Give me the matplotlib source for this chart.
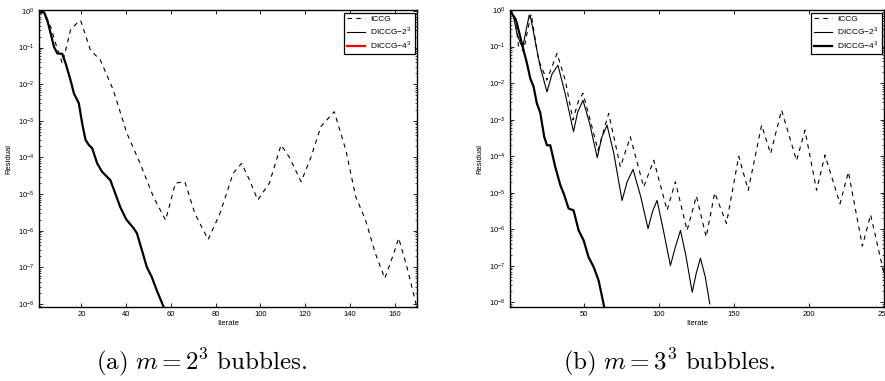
import numpy as np
import matplotlib
matplotlib.use('Agg')
import matplotlib.pyplot as plt
from matplotlib.lines import Line2D

plt.rcParams['font.family'] = ['Liberation Sans', 'DejaVu Sans']
plt.rcParams['mathtext.fontset'] = 'custom'
plt.rcParams['mathtext.rm'] = 'Liberation Sans'

# (a) m = 2^3 burbujas: iteración y log10 del residuo
it_a_iccg = [1, 3, 6.2, 9, 11.4, 13, 15.1, 17.5, 19.6, 22, 24, 28.4, 32.9, 34.2, 37, 40.3, 46.2,
             52.2, 57.6, 62, 66.2, 70.7, 76.6, 81.9, 87.8, 91.6, 95, 98.8, 104, 109.2, 112.9,
             118.2, 122.6, 127, 133, 138.2, 142.6, 147, 151.4, 155.6, 159.6, 161.8, 165.5, 170]
log_a_iccg = [0, -0.1, -0.43, -1.0, -1.43, -1.05, -0.52, -0.36, -0.26, -0.7, -1.07, -1.34, -1.97,
              -2.16, -2.7, -3.34, -4.16, -5.08, -5.71, -4.7, -4.66, -5.53, -6.24, -5.53, -4.43,
              -4.16, -4.6, -5.16, -4.7, -3.66, -3.99, -4.66, -3.99, -3.16, -2.75, -3.8, -5.07,
              -5.71, -6.62, -7.3, -6.62, -6.2, -6.99, -8.1]

it_a_d2 = [1, 2, 3.3, 4.7, 6.2, 7.7, 9.2, 11.4, 12.9, 15.1, 16.6, 18.8, 20.3, 21.8, 23.3, 24.8,
           27, 29.2, 32.9, 35.1, 37.3, 40, 43.3, 44.8, 47, 49.2, 51.4, 53.6, 56.6, 57.2]
log_a_d2 = [0, -0.02, -0.04, -0.25, -0.61, -0.98, -1.16, -1.17, -1.43, -1.89, -2.25, -2.52,
            -3.07, -3.52, -3.66, -3.75, -4.16, -4.39, -4.62, -4.98, -5.35, -5.69, -5.93, -6.07,
            -6.53, -6.99, -7.26, -7.62, -8.06, -8.2]

# (b) m = 3^3 burbujas
it_b_iccg = [1, 2.3, 4.5, 6.7, 10, 12.5, 15.1, 20, 25.6, 32.3, 37.8, 42.9, 46.7, 49.6, 55.6,
             59.6, 66.7, 74.5, 81.1, 90, 96.7, 105.6, 111.1, 118.9, 125.1, 131.6, 137.3,
             145.1, 153.3, 159.6, 168.5, 174.5, 181.8, 191.8, 197.4, 205.1, 210.7, 220.7,
             226.3, 235.6, 241.1, 250.7]
log_b_iccg = [-0.05, 0, -0.27, -1.0, -1.13, -0.6, -0.11, -1.37, -1.92, -1.19, -1.92, -3.01,
              -2.47, -2.28, -3.2, -3.84, -2.83, -4.29, -3.47, -4.84, -4.11, -5.48, -4.7, -6.03,
              -5.09, -6.21, -5.0, -5.84, -4.0, -4.93, -3.15, -3.93, -2.74, -4.12, -3.29, -4.93,
              -3.97, -5.3, -4.43, -6.46, -5.6, -7.35]

it_b_d2 = [1, 3.3, 5.6, 7.8, 9.5, 11.5, 13.8, 15, 18.9, 21.1, 25.6, 29, 32.9, 37.8, 43.3, 46,
           49.6, 54, 59.1, 62, 65.6, 70, 75.6, 79, 82.9, 88, 92.9, 96, 98.9, 103, 107.8, 111,
           114.5, 118, 122.3, 125, 127.8, 131, 134]
log_b_d2 = [0, -0.18, -0.64, -0.9, -1.02, -0.6, -0.14, -0.25, -1.1, -1.55, -2.24, -1.75,
            -1.51, -2.3, -3.33, -2.8, -2.47, -3.1, -4.04, -3.5, -3.15, -3.9, -5.21, -4.7,
            -4.36, -5.1, -5.98, -5.5, -5.21, -6.0, -6.99, -6.5, -6.03, -6.7, -7.72, -7.2,
            -6.79, -7.3, -8.04]

it_b_d4 = [1, 2.5, 4.5, 5.6, 7.8, 10, 12.3, 14.5, 16.7, 18.9, 21.1, 22.3, 23.8, 25.6, 27.8,
           31.1, 34.5, 37, 40, 43.3, 46.7, 50, 53.3, 56.7, 60, 63.3, 64.5]
log_b_d4 = [0, -0.12, -0.23, -0.37, -0.73, -1.1, -1.46, -1.87, -2.1, -2.56, -2.8, -3.1,
            -3.47, -3.7, -3.7, -4.29, -4.79, -5.05, -5.43, -5.48, -6.03, -6.3, -6.76, -7.03,
            -7.4, -8.04, -8.3]

fig = plt.figure(figsize=(8.85, 3.81), dpi=100)
ax1 = fig.add_axes([39 / 885, 1 - 307 / 381, 378 / 885, 297 / 381])
ax2 = fig.add_axes([510 / 885, 1 - 307 / 381, 374 / 885, 297 / 381])

estilo_iccg = dict(color='black', linestyle=(0, (4, 4)), linewidth=0.8)

ax1.semilogy(it_a_iccg, 10.0 ** np.array(log_a_iccg), **estilo_iccg)
ax1.semilogy(it_a_d2, 10.0 ** np.array(log_a_d2), color='black', linewidth=1.6)
ax1.set_xlim(1, 170)
ax1.set_ylim(8.3e-9, 1.06)
ax1.set_xticks([20, 40, 60, 80, 100, 120, 140, 160])
manijas_a = [Line2D([], [], **estilo_iccg),
             Line2D([], [], color='black', linewidth=0.8),
             Line2D([], [], color='red', linewidth=1.6)]

ax2.semilogy(it_b_iccg, 10.0 ** np.array(log_b_iccg), **estilo_iccg)
ax2.semilogy(it_b_d2, 10.0 ** np.array(log_b_d2), color='black', linewidth=0.8)
ax2.semilogy(it_b_d4, 10.0 ** np.array(log_b_d4), color='black', linewidth=1.6)
ax2.set_xlim(1, 250)
ax2.set_ylim(7.5e-9, 1.0)
ax2.set_xticks([50, 100, 150, 200, 250])
manijas_b = [Line2D([], [], **estilo_iccg),
             Line2D([], [], color='black', linewidth=0.8),
             Line2D([], [], color='black', linewidth=1.6)]

etiquetas = ['ICCG', 'DICCG\u22122$^{3}$', 'DICCG\u22124$^{3}$']
for ax, manijas in [(ax1, manijas_a), (ax2, manijas_b)]:
    ax.set_yticks([10.0 ** k for k in range(-8, 1)])
    ax.tick_params(which='both', direction='in', top=True, right=True, labelsize=5.5, pad=3)
    ax.tick_params(which='major', length=3, width=0.6)
    ax.tick_params(which='minor', length=1.5, width=0.5)
    for s in ax.spines.values():
        s.set_linewidth(1.0)
    ax.set_xlabel('Iterate', fontsize=5.5, labelpad=1)
    ax.set_ylabel('Residual', fontsize=5.5, labelpad=4)
    leg = ax.legend(manijas, etiquetas, loc='upper right', fontsize=6, fancybox=False,
                    framealpha=1, edgecolor='black', handlelength=2.2, borderpad=0.3,
                    labelspacing=0.25, handletextpad=0.6, borderaxespad=0.3)
    leg.get_frame().set_linewidth(0.9)

fig.text(201 / 885, 1 - 362 / 381, r'$\mathrm{(a)}\ m=2^3\ \mathrm{bubbles.}$',
         ha='center', va='center', fontsize=18, math_fontfamily='cm')
fig.text(669 / 885, 1 - 362 / 381, r'$\mathrm{(b)}\ m=3^3\ \mathrm{bubbles.}$',
         ha='center', va='center', fontsize=18, math_fontfamily='cm')

fig.savefig('out.png', dpi=100)
